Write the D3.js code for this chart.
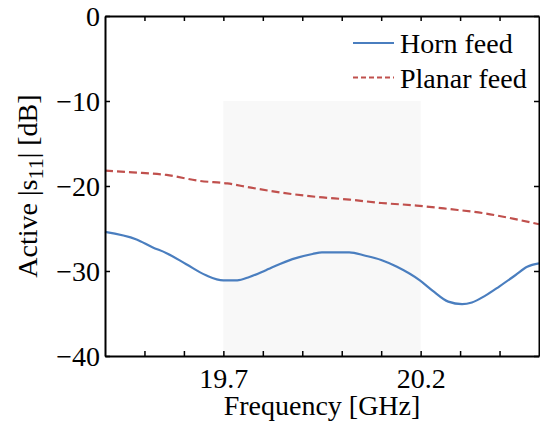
<!DOCTYPE html>
<html lang="en">
<head>
    <meta charset="UTF-8">
    <title>Active s11</title>
    <script src="https://d3js.org/d3.v7.min.js"></script>
    <style>
        body { margin: 0; background: #fff; }
        text { font-family: "Liberation Serif", "Times New Roman", serif; fill: #000; }
    </style>
</head>
<body>
    <svg id="chart"></svg>

    <script>
        // readings (GHz, dB)
        const hornFreq = [19.40, 19.48, 19.52, 19.556, 19.606, 19.656, 19.70, 19.735, 19.766, 19.808,
                          19.875, 19.926, 19.95, 20.019, 20.06, 20.10, 20.14, 20.198, 20.23, 20.27,
                          20.305, 20.33, 20.364, 20.40, 20.44, 20.47, 20.50];
        const hornS11 = [-25.4, -26.3, -27.2, -27.9, -29.2, -30.5, -31.1, -31.1, -30.7, -29.9,
                         -28.6, -28.0, -27.8, -27.8, -28.2, -28.7, -29.5, -31.1, -32.3, -33.6,
                         -33.9, -33.7, -32.9, -31.8, -30.5, -29.5, -29.1];
        const planarFreq = [19.40, 19.47, 19.556, 19.64, 19.71, 19.77, 19.85, 19.94, 20.02, 20.10,
                            20.19, 20.27, 20.36, 20.44, 20.50];
        const planarS11 = [-18.2, -18.4, -18.7, -19.4, -19.7, -20.2, -20.8, -21.3, -21.6, -22.0,
                           -22.3, -22.7, -23.2, -23.9, -24.5];
        const xTicks = [19.5, 19.6, 19.7, 19.8, 19.9, 20.0, 20.1, 20.2, 20.3, 20.4];
        const xLabelTicks = [19.7, 20.2];
        const yTicks = [0, -10, -20, -30, -40];
        const band = [19.7, 20.2];
        const bandDb = [-10, -40];
        const seriesNames = ["Horn feed", "Planar feed"];

        const width = 540, height = 423;
        const blue = "#4a7ebf", red = "#c0504d";
        const fontSize = 28;

        const svg = d3.select("#chart").attr("width", width).attr("height", height);

        const x = d3.scaleLinear().domain([19.4, 20.5]).range([105, 539]);
        const y = d3.scaleLinear().domain([-40, 0]).range([356, 16]);

        // shaded band
        svg.append("rect")
            .attr("x", x(band[0]))
            .attr("y", y(bandDb[0]))
            .attr("width", x(band[1]) - x(band[0]))
            .attr("height", y(bandDb[1]) - y(bandDb[0]))
            .attr("fill", "#f8f8f8");

        const line = d3.line().x(d => x(d[0])).y(d => y(d[1])).curve(d3.curveMonotoneX);

        svg.append("path")
            .datum(hornFreq.map((f, i) => [f, hornS11[i]]))
            .attr("d", line)
            .attr("fill", "none")
            .attr("stroke", blue)
            .attr("stroke-width", 2.2);

        svg.append("path")
            .datum(planarFreq.map((f, i) => [f, planarS11[i]]))
            .attr("d", line)
            .attr("fill", "none")
            .attr("stroke", red)
            .attr("stroke-width", 2.2)
            .attr("stroke-dasharray", "8,4");

        // axes, ticks inward on all four sides
        const tickLen = 5;
        const axisBottom = svg.append("g").attr("transform", `translate(0,${y(-40)})`)
            .call(d3.axisBottom(x).tickValues(xTicks).tickSizeInner(-tickLen).tickSizeOuter(0)
                .tickFormat(d => xLabelTicks.includes(+d.toFixed(1)) ? d.toFixed(1) : ""));
        const axisTop = svg.append("g").attr("transform", `translate(0,${y(0)})`)
            .call(d3.axisTop(x).tickValues(xTicks).tickSizeInner(-tickLen).tickSizeOuter(0).tickFormat(""));
        const axisLeft = svg.append("g").attr("transform", `translate(${x(19.4)},0)`)
            .call(d3.axisLeft(y).tickValues(yTicks).tickSizeInner(-tickLen).tickSizeOuter(0).tickFormat(d3.format("d")));
        const axisRight = svg.append("g").attr("transform", `translate(${x(20.5)},0)`)
            .call(d3.axisRight(y).tickValues(yTicks).tickSizeInner(-tickLen).tickSizeOuter(0).tickFormat(""));

        [axisBottom, axisTop, axisLeft, axisRight].forEach(g => {
            g.select(".domain").attr("stroke", "#000").attr("stroke-width", 2);
            g.selectAll(".tick line").attr("stroke", "#000").attr("stroke-width", 1.5);
            g.selectAll("text").style("font-family", "Liberation Serif, serif")
                .style("font-size", fontSize + "px").attr("fill", "#000");
        });
        axisBottom.selectAll("text").attr("y", 12);
        axisLeft.selectAll("text").attr("x", -5).attr("dy", "0.34em");

        // axis titles
        svg.append("text")
            .attr("x", (x(19.4) + x(20.5)) / 2)
            .attr("y", 415)
            .attr("text-anchor", "middle")
            .style("font-size", fontSize + "px")
            .text("Frequency [GHz]");

        const yTitle = svg.append("text")
            .attr("transform", `translate(37,${(y(0) + y(-40)) / 2}) rotate(-90)`)
            .attr("text-anchor", "middle")
            .style("font-size", fontSize + "px");
        yTitle.append("tspan").text("Active |s");
        yTitle.append("tspan").attr("dy", 6).style("font-size", "22px").text("11");
        yTitle.append("tspan").attr("dy", -6).text("| [dB]");

        // legend
        const legend = svg.append("g");
        [[blue, null], [red, "5,3"]].forEach((s, i) => {
            const ly = 43 + i * 34.5;
            legend.append("line")
                .attr("x1", 353).attr("x2", 394)
                .attr("y1", ly).attr("y2", ly)
                .attr("stroke", s[0]).attr("stroke-width", 2)
                .attr("stroke-dasharray", s[1]);
            legend.append("text")
                .attr("x", 400).attr("y", ly + 10)
                .style("font-size", fontSize + "px")
                .text(seriesNames[i]);
        });
    </script>
</body>
</html>
